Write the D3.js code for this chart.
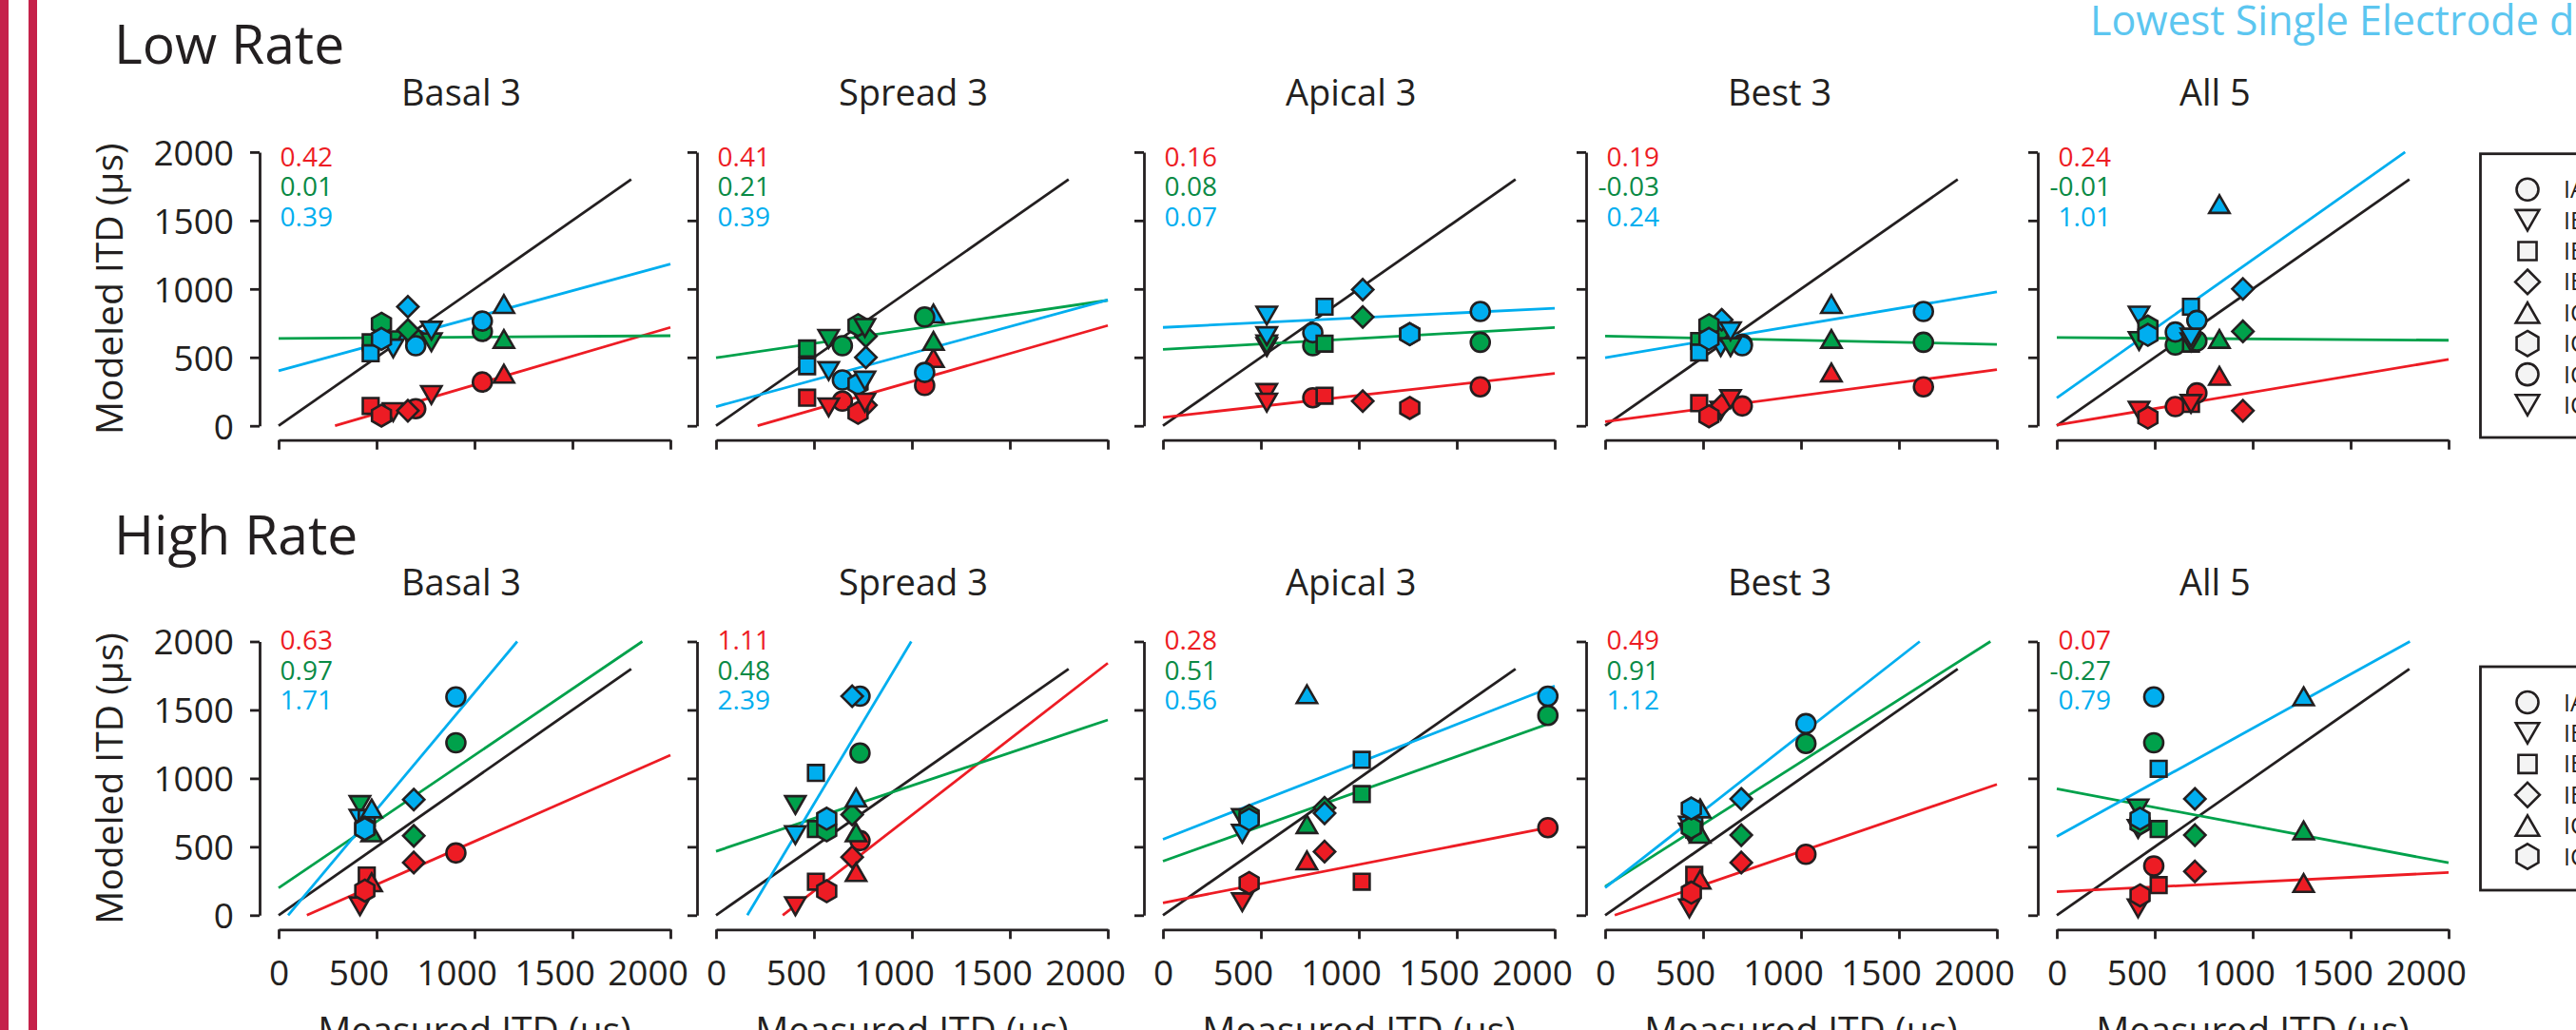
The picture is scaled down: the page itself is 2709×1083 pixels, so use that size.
<!DOCTYPE html>
<html>
<head>
<meta charset="utf-8">
<script src="https://cdn.jsdelivr.net/npm/d3@7"></script>
<style>
  html, body { margin: 0; padding: 0; background: #fff; overflow: hidden; }
  svg { display: block; font-family: "Open Sans", "Noto Sans", sans-serif; }
</style>
</head>
<body>
<svg id="chart" width="2709" height="1083"></svg>
<script>
// ---------------- data ----------------
const conditions = ["Basal 3", "Spread 3", "Apical 3", "Best 3", "All 5"];
const rateTitles = ["Low Rate", "High Rate"];
const headline = "Lowest Single Electrode d\u2032";
const tickValues = [0, 500, 1000, 1500, 2000];
const identityEnd = 1800;

const lowSubjects = ["IAJ", "IBF", "IBK", "IBM", "ICB", "ICD", "ICM", "ICN"];
const lowShapes = ["circle", "triDown", "square", "diamond", "triUp", "hexagon", "circle", "triDown"];
const highSubjects = ["IAJ", "IBF", "IBK", "IBM", "ICB", "ICD"];
const highShapes = ["circle", "triDown", "square", "diamond", "triUp", "hexagon"];

// measured ITD (µs): one row per condition, one column per subject (null = not tested)
const lowMeasured = [
  [700, 585, 470, 660, 1150, 525, 1040, 780],
  [645, 575, 465, 765, 1110, 725, 1065, 760],
  [765, 530, 825, 1020, null, 1260, 1620, 530],
  [700, 590, 480, 595, 1155, 530, 1625, 640],
  [605, 420, 685, 950, 830, 465, 715, 685]
];
// modeled ITD (µs) for the three model variants
const lowRed = [
  [125, 100, 145, 110, 380, 75, 320, 225],
  [180, 135, 205, 150, 495, 95, 295, 170],
  [205, 240, 220, 180, null, 130, 285, 170],
  [145, 110, 165, 150, 390, 70, 285, 195],
  [140, 110, 160, 110, 365, 60, 240, 160]
];
const lowGreen = [
  [630, 625, 610, 700, 635, 745, 690, 610],
  [585, 635, 565, 655, 620, 735, 795, 715],
  [585, 575, 600, 795, null, 670, 610, 595],
  [595, 610, 620, 695, 635, 735, 610, 575],
  [590, 620, 600, 690, 635, 725, 620, 610]
];
const lowBlue = [
  [585, 565, 530, 870, 890, 635, 765, 695],
  [335, 400, 435, 500, 820, 305, 390, 330],
  [680, 805, 870, 995, null, 670, 835, 655],
  [585, 575, 535, 775, 890, 635, 835, 690],
  [685, 805, 870, 1000, 1620, 665, 770, 645]
];

const highMeasured = [
  [905, 415, 450, 690, 475, 440],
  [735, 405, 510, 695, 715, 565],
  [1965, 405, 1015, 825, 735, 440],
  [1025, 430, 455, 695, 485, 440],
  [495, 415, 520, 705, 1260, 425]
];
const highRed = [
  [455, 65, 290, 385, 240, 180],
  [545, 65, 245, 425, 315, 175],
  [640, 95, 245, 465, 400, 235],
  [445, 50, 295, 385, 260, 165],
  [360, 50, 220, 320, 235, 145]
];
const highGreen = [
  [1260, 805, 675, 580, 605, 640],
  [1185, 805, 630, 735, 605, 620],
  [1460, 710, 885, 785, 665, 725],
  [1255, 605, 625, 585, 595, 640],
  [1260, 780, 630, 585, 620, 670]
];
const highBlue = [
  [1595, 705, 710, 845, 780, 630],
  [1600, 585, 1040, 1600, 860, 705],
  [1600, 595, 1135, 745, 1615, 700],
  [1400, 655, 675, 850, 780, 780],
  [1595, 630, 1070, 850, 1600, 705]
];

// regression fits per condition: [red, green, blue]
const lowSlopes = [
  [0.42, 0.41, 0.16, 0.19, 0.24],
  [0.01, 0.21, 0.08, -0.03, -0.01],
  [0.39, 0.39, 0.07, 0.24, 1.01]
];
const lowIntercepts = [
  [-121, -87, 62, 30, 5],
  [638, 497, 558, 655, 645],
  [402, 140, 719, 498, 204]
];
const highSlopes = [
  [0.63, 1.11, 0.28, 0.49, 0.07],
  [0.97, 0.48, 0.51, 0.91, -0.27],
  [1.71, 2.39, 0.56, 1.12, 0.79]
];
const highIntercepts = [
  [-91, -378, 90, -24, 172],
  [199, 467, 395, 210, 923],
  [-83, -382, 555, 201, 576]
];

// ---------------- styling & layout ----------------
const markColors = ["#ED1C24", "#00A14B", "#00AEEF"];
const textColors = ["#ED1C24", "#0A8A45", "#00AEEF"];
const ink = "#231F20";

const colX = [293, 753, 1223, 1688, 2163];
const plotW = 412;
const rowBase = [447.7, 962.3];
const plotH = 287.8;
const slopeBaselines = [[174.5, 206, 237.5], [683, 714.5, 746]];
const titleBaselines = [110.5, 626];
const rateBaselines = [67, 583];
const markerSize = 10;
// x tick labels sit slightly left of their ticks, except the zero
const xLabelShift = v => (v === 0 ? 0 : v === 2000 ? -24 : -19);

const rows = [
  { measured: lowMeasured, series: [lowRed, lowGreen, lowBlue], slopes: lowSlopes,
    intercepts: lowIntercepts, subjects: lowSubjects, shapes: lowShapes, legendTop: 161.7, legendH: 298.3 },
  { measured: highMeasured, series: [highRed, highGreen, highBlue], slopes: highSlopes,
    intercepts: highIntercepts, subjects: highSubjects, shapes: highShapes, legendTop: 701, legendH: 235 }
];

const svg = d3.select("#chart");

// marker outlines, s = nominal radius
function shapePath(kind, s) {
  switch (kind) {
    case "circle":
      return `M${s},0A${s},${s} 0 1,1 ${-s},0A${s},${s} 0 1,1 ${s},0Z`;
    case "square": {
      const h = s * 0.83;
      return `M${-h},${-h}H${h}V${h}H${-h}Z`;
    }
    case "diamond": {
      const d = s * 1.12;
      return `M0,${-d}L${d},0L0,${d}L${-d},0Z`;
    }
    case "triUp": {
      const w = s * 1.07, h = s * 0.93;
      return `M0,${-h}L${w},${h}L${-w},${h}Z`;
    }
    case "triDown": {
      const w = s * 1.07, h = s * 0.93;
      return `M0,${h}L${w},${-h}L${-w},${-h}Z`;
    }
    case "hexagon": {
      const r = s * 1.15;
      const pts = d3.range(6).map(k => {
        const a = (-90 + 60 * k) * Math.PI / 180;
        return [r * Math.cos(a), r * Math.sin(a)];
      });
      return "M" + pts.map(p => p.join(",")).join("L") + "Z";
    }
  }
}

// straight fit line over 0..2000 µs, kept inside the 0..2000 modeled range
function fitSegment(m, b) {
  let xa = 0, xb = 2000;
  if (m !== 0) {
    const x0 = (0 - b) / m, x1 = (2000 - b) / m;
    xa = Math.max(xa, Math.min(x0, x1));
    xb = Math.min(xb, Math.max(x0, x1));
  }
  return [[xa, m * xa + b], [xb, m * xb + b]];
}

const fmt = v => (v < 0 ? "-" : "") + Math.abs(v).toFixed(2);

// left edge bars
svg.append("rect").attr("x", 0).attr("y", 0).attr("width", 9).attr("height", 1083).attr("fill", "#C5214A");
svg.append("rect").attr("x", 30).attr("y", 0).attr("width", 9).attr("height", 1083).attr("fill", "#C5214A");

// headline
svg.append("text").attr("x", 2198).attr("y", 37)
  .attr("font-size", 43).attr("fill", "#5CC6F0").text(headline);

rows.forEach((row, r) => {
  // row title
  svg.append("text").attr("x", 120).attr("y", rateBaselines[r])
    .attr("font-size", 57).attr("fill", ink).text(rateTitles[r]);

  const base = rowBase[r];

  // y-axis label
  svg.append("text")
    .attr("transform", `translate(129,${base - plotH / 2}) rotate(-90)`)
    .attr("text-anchor", "middle").attr("font-size", 39).attr("fill", ink)
    .text("Modeled ITD (\u00B5s)");

  conditions.forEach((cond, c) => {
    const x = d3.scaleLinear().domain([0, 2000]).range([colX[c], colX[c] + plotW]);
    const y = d3.scaleLinear().domain([0, 2000]).range([base, base - plotH]);
    const g = svg.append("g");

    // panel title
    g.append("text").attr("x", colX[c] + 129).attr("y", titleBaselines[r])
      .attr("font-size", 38).attr("fill", ink).text(cond);

    // axes
    const xAxis = d3.axisBottom(x).tickValues(tickValues).tickSize(10).tickSizeOuter(0)
      .tickPadding(22).tickFormat(r === 0 ? "" : d3.format("d"));
    const gx = g.append("g").attr("transform", `translate(0,${base + 15})`).call(xAxis);
    const yAxis = d3.axisLeft(y).tickValues(tickValues).tickSize(10).tickSizeOuter(0)
      .tickPadding(17).tickFormat(c === 0 ? d3.format("d") : "");
    const gy = g.append("g").attr("transform", `translate(${colX[c] - 20},0)`).call(yAxis);
    [gx, gy].forEach(ax => {
      ax.attr("font-family", null).attr("font-size", null);
      ax.selectAll("path, line").attr("stroke", ink).attr("stroke-width", 2.8);
      ax.selectAll("text").attr("fill", ink).attr("font-size", 37);
    });
    gy.selectAll("text").attr("dy", "0.36em");
    gx.selectAll("text").attr("dx", d => xLabelShift(d));

    if (r === 1) {
      g.append("text").attr("x", colX[c] + plotW / 2).attr("y", 1097)
        .attr("text-anchor", "middle").attr("font-size", 39).attr("fill", ink)
        .text("Measured ITD (\u00B5s)");
    }

    // identity line
    g.append("line")
      .attr("x1", x(0)).attr("y1", y(0)).attr("x2", x(identityEnd)).attr("y2", y(identityEnd))
      .attr("stroke", ink).attr("stroke-width", 2.8);

    // fit lines
    [0, 1, 2].forEach(s => {
      const seg = fitSegment(row.slopes[s][c], row.intercepts[s][c]);
      g.append("line")
        .attr("x1", x(seg[0][0])).attr("y1", y(seg[0][1]))
        .attr("x2", x(seg[1][0])).attr("y2", y(seg[1][1]))
        .attr("stroke", markColors[s]).attr("stroke-width", 2.8);
    });

    // slope labels
    [0, 1, 2].forEach(s => {
      g.append("text").attr("x", colX[c] + 57).attr("y", slopeBaselines[r][s])
        .attr("text-anchor", "end").attr("font-size", 28).attr("fill", textColors[s])
        .text(fmt(row.slopes[s][c]));
    });

    // points: subject by subject, red then green then blue
    row.subjects.forEach((subj, k) => {
      const mx = row.measured[c][k];
      if (mx == null) return;
      [0, 1, 2].forEach(s => {
        const my = row.series[s][c][k];
        if (my == null) return;
        g.append("path")
          .attr("d", shapePath(row.shapes[k], markerSize))
          .attr("transform", `translate(${x(mx)},${y(my)})`)
          .attr("fill", markColors[s]).attr("stroke", ink).attr("stroke-width", 2.6)
          .attr("stroke-linejoin", "miter");
      });
    });
  });

  // legend
  const lg = svg.append("g");
  lg.append("rect").attr("x", 2608.5).attr("y", row.legendTop)
    .attr("width", 300).attr("height", row.legendH)
    .attr("fill", "#fff").attr("stroke", ink).attr("stroke-width", 2.8);
  row.subjects.forEach((subj, k) => {
    const cy = row.legendTop + 37.5 + k * 32.4;
    lg.append("path").attr("d", shapePath(row.shapes[k], 11.5))
      .attr("transform", `translate(2658,${cy})`)
      .attr("fill", "#F4F4F4").attr("stroke", ink).attr("stroke-width", 2.6);
    lg.append("text").attr("x", 2696).attr("y", cy + 9)
      .attr("font-size", 25).attr("fill", ink).text(subj);
  });
});
</script>
</body>
</html>
